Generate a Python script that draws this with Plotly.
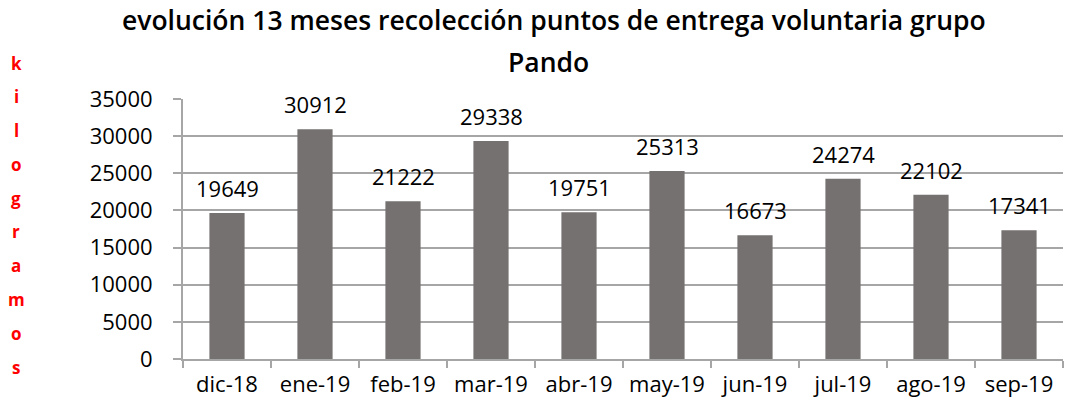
import plotly.graph_objects as go

categories = ["dic-18", "ene-19", "feb-19", "mar-19", "abr-19", "may-19", "jun-19", "jul-19", "ago-19", "sep-19"]
values = [19649, 30912, 21222, 29338, 19751, 25313, 16673, 24274, 22102, 17341]
y_ticks = [0, 5000, 10000, 15000, 20000, 25000, 30000, 35000]
title_lines = ["evolución 13 meses recolección puntos de entrega voluntaria grupo", "Pando"]
y_label = "kilogramos"

FONT = "Open Sans"
W, H = 1065, 409
L, R, T, B = 183, 2, 99, 50


def px_to_paper(px, py):
    return (px - L) / (W - L - R), (H - B - py) / (H - T - B)


fig = go.Figure()
fig.add_trace(go.Bar(
    x=categories, y=values,
    marker=dict(color="#767171", line=dict(width=0)),
    width=0.4,
    hoverinfo="x+y",
))

annotations = []
for c, v in zip(categories, values):
    annotations.append(dict(
        x=c, y=v, xref="x", yref="y", text=str(v), showarrow=False,
        yanchor="bottom", yshift=8,
        font=dict(family=FONT, size=22, color="#000000"),
    ))

# title lines
title_pos = [(554, 20), (548, 62)]
for t, (xx, yy) in zip(title_lines, title_pos):
    ax, ay = px_to_paper(xx, yy)
    annotations.append(dict(
        x=ax, y=ay, xref="paper", yref="paper", text=t, showarrow=False,
        xanchor="center", yanchor="middle",
        font=dict(family=FONT, size=26.5, color="#000000", weight=600),
    ))

# vertical y-axis label, one letter per line
n = len(y_label)
for i, ch in enumerate(y_label):
    yy = 63 + i * (367 - 63) / (n - 1)
    ax, ay = px_to_paper(16, yy)
    annotations.append(dict(
        x=ax, y=ay, xref="paper", yref="paper", text="<b>" + ch + "</b>",
        showarrow=False, xanchor="center", yanchor="middle",
        font=dict(family=FONT, size=17, color="#ff0000"),
    ))

fig.update_layout(
    width=W, height=H,
    margin=dict(l=L, r=R, t=T, b=B, pad=0, autoexpand=False),
    paper_bgcolor="white", plot_bgcolor="white",
    showlegend=False,
    annotations=annotations,
    bargap=0.6,
)
fig.update_xaxes(
    type="category",
    showgrid=False, automargin=False, tickangle=0,
    showline=True, linecolor="#a6a6a6", linewidth=2,
    ticks="outside", tickson="boundaries", ticklen=7, tickcolor="#a6a6a6", tickwidth=2,
    tickfont=dict(family=FONT, size=22, color="#000000"),
    ticklabelstandoff=5,
)
fig.update_yaxes(
    range=[0, 35000], automargin=False,
    tickvals=y_ticks, ticktext=[str(t) for t in y_ticks],
    showgrid=True, gridcolor="#a6a6a6", gridwidth=2,
    showline=True, linecolor="#a6a6a6", linewidth=2,
    ticks="outside", ticklen=8, tickcolor="#a6a6a6", tickwidth=2,
    tickfont=dict(family=FONT, size=22, color="#000000"),
    ticklabelstandoff=16,
    zeroline=False,
)

fig.write_html("out.html", config={"displayModeBar": False},
               post_script="document.body.style.margin='0';")
